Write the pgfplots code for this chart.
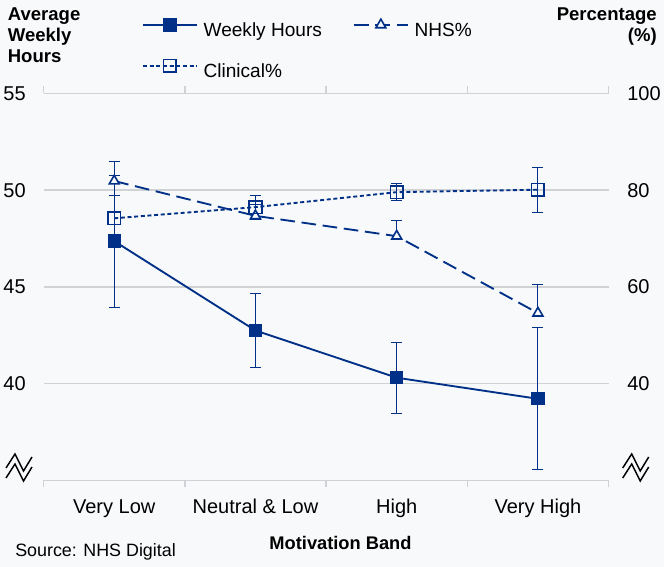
\documentclass[border=0pt]{standalone}
\usepackage{pgfplots}
\pgfplotsset{compat=1.18}
\usepackage{fontspec}
\setmainfont{Liberation Sans}

\definecolor{nhsblue}{RGB}{0,48,135}
\definecolor{gridgray}{RGB}{208,210,214}
\definecolor{bggray}{RGB}{248,249,250}

\pgfplotsset{
  motivation/.style={
    scale only axis, width=423.7pt, height=290.25pt,
    at={(32.7pt,64.9pt)}, anchor=south west,
    xmin=-0.5, xmax=3.5,
    axis line style={draw=none},
    clip=false,
    /pgf/number format/assume math mode=true,
    tick label style={font=\fontsize{15}{18}\selectfont},
    major tick length=0pt,
  },
  errbar/.style={
    error bars/error bar style={line width=0.8pt, solid},
    error bars/error mark options={rotate=90, mark size=4.1pt, line width=0.8pt, solid},
  },
}

\begin{document}
\begin{tikzpicture}
% canvas
\fill[bggray] (0,0) rectangle (498pt,425.25pt);

% left axis: average weekly hours
\begin{axis}[motivation,
  ymin=35, ymax=55, ytick={40,45,50,55},
  ymajorgrids, grid style={gridgray, line width=1.1pt},
  xtick={0,1,2,3},
  xticklabels={Very Low, Neutral \& Low, High, Very High},
  minor xtick={-0.5,0.5,1.5,2.5,3.5},
  minor tick length=5.25pt, tick align=outside,
  minor tick style={draw=gridgray, line width=1.1pt},
  xticklabel style={anchor=base, inner sep=0pt, yshift=-25.1pt},
  yticklabel style={anchor=east, inner sep=0pt, xshift=-13.2pt},
]
\draw[gridgray, line width=1.1pt] (rel axis cs:0,0) -- (rel axis cs:1,0);
\addplot[nhsblue, line width=1.4pt, mark=square*, mark size=4.3pt, errbar,
  error bars/.cd, y dir=both, y explicit]
  coordinates {
    (0,47.37) +- (0,3.41)
    (1,42.75) +- (0,1.93)
    (2,40.31) +- (0,1.83)
    (3,39.22) +- (0,3.67)
  };
\end{axis}

% right axis: percentages
\begin{axis}[motivation,
  ymin=20, ymax=100, ytick={40,60,80,100},
  xtick=\empty,
  yticklabel pos=right,
  yticklabel style={anchor=west, inner sep=0pt, xshift=13.9pt},
  legend columns=2,
  legend image code/.code={%
    \draw[mark repeat=2, mark phase=2, #1]
      plot coordinates {(0pt,5pt) (20.25pt,5pt) (40.5pt,5pt)};},
  legend style={
    at={(axis description cs:0.1742,1.192)}, anchor=north west,
    draw=none, fill=none, inner sep=0pt, outer sep=0pt,
    font=\fontsize{14.3}{17}\selectfont,
    nodes={inner sep=0pt, text height=10.3pt, text depth=3pt},
    column sep=4.3pt, row sep=14.45pt,
    /tikz/every even column/.append style={column sep=23.25pt},
  },
  legend cell align=left,
]
\addlegendimage{nhsblue, line width=1.4pt, mark=square*, mark size=4.3pt}
\addlegendentry{Weekly Hours}

\addplot[nhsblue, line width=1.4pt, dash pattern=on 11pt off 5pt,
  mark=triangle*, mark size=4.3pt,
  mark options={solid, fill=bggray, line width=1.2pt}, errbar,
  error bars/.cd, y dir=plus, y explicit]
  coordinates {
    (0,81.9) +- (0,4.0)
    (1,74.7) +- (0,2.3)
    (2,70.5) +- (0,3.3)
    (3,54.6) +- (0,6.0)
  };
\addlegendentry{NHS\%}

\addplot[nhsblue, line width=1.4pt, dash pattern=on 3pt off 2pt,
  mark=square, mark size=4.7pt,
  mark options={solid, line width=1.2pt}, errbar,
  error bars/.cd, y dir=both, y explicit]
  coordinates {
    (0,74.2) +- (0,4.7)
    (1,76.5) +- (0,2.5)
    (2,79.6) +- (0,1.7)
    (3,80.1) +- (0,4.65)
  };
\addlegendentry{Clinical\%}
\end{axis}

% titles, source and axis-break symbols (pixel grid, origin top left)
\begin{scope}[x=0.75pt, y=-0.75pt, shift={(0pt,425.25pt)}]
  \node[anchor=north west, align=left, inner sep=0pt,
        font=\bfseries\fontsize{13.9}{15.75}\selectfont] at (7.6,7.5)
    {Average\\Weekly\\Hours};
  \node[anchor=north east, align=right, inner sep=0pt,
        font=\bfseries\fontsize{13.9}{15.75}\selectfont] at (657,7.5)
    {Percentage\\(\%)};
  \node[anchor=base, inner sep=0pt, font=\bfseries\fontsize{13.7}{16}\selectfont]
    at (340.5,549.3) {Motivation Band};
  \node[anchor=base west, inner sep=0pt, font=\fontsize{13.4}{16}\selectfont]
    at (15,556.5) {Source: NHS Digital};
  \foreach \bx in {6,622.7}{
    \foreach \dy in {0,10}{
      \draw[black, line width=1.1pt]
        ({\bx},{468+\dy}) -- ({\bx+9},{454+\dy}) -- ({\bx+17.5},{471+\dy}) -- ({\bx+26},{457+\dy});
    }
  }
\end{scope}
\end{tikzpicture}
\end{document}
